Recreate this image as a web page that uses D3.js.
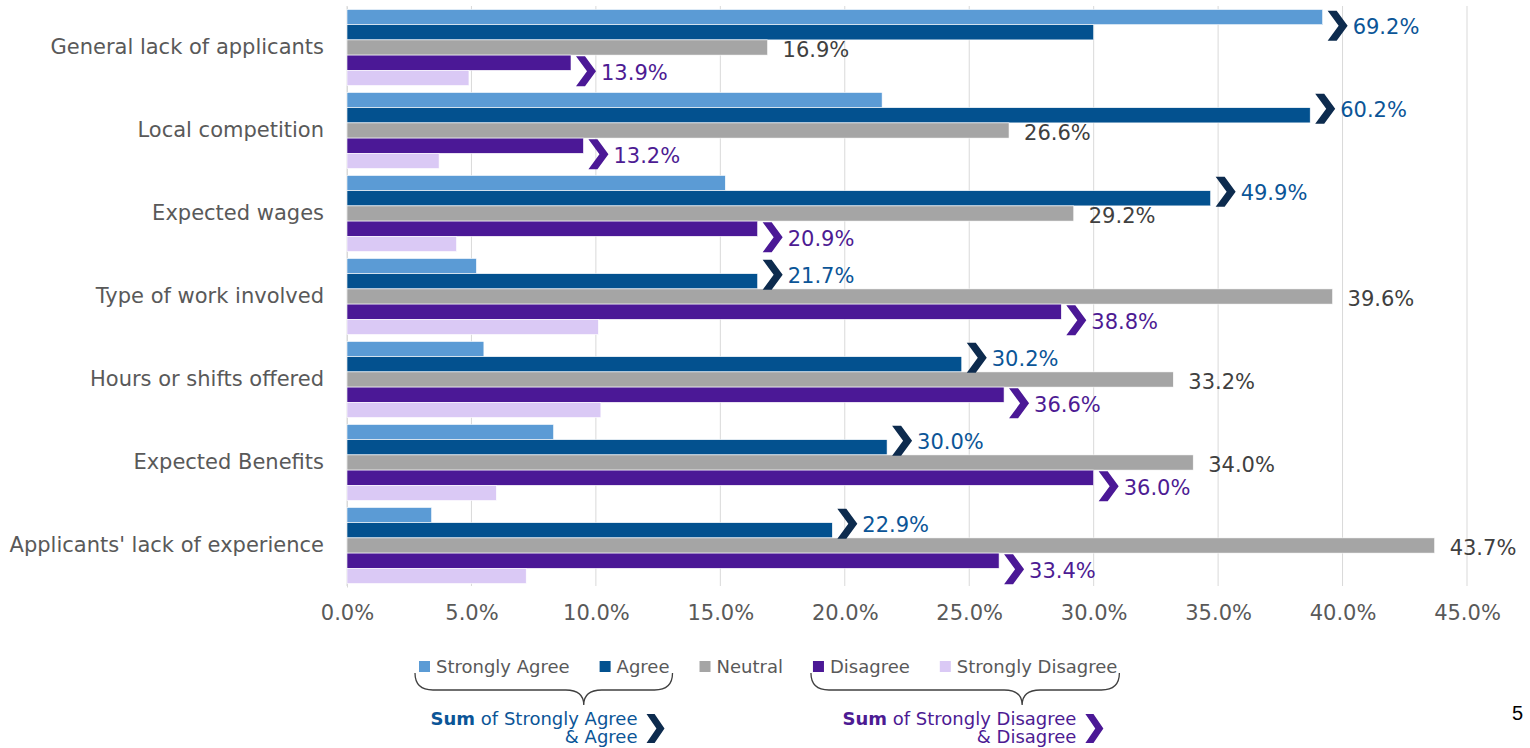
<!DOCTYPE html>
<html>
<head>
<meta charset="utf-8">
<script src="https://cdn.jsdelivr.net/npm/d3@7"></script>
<style>
	body { margin: 0; background: #fff; }
	svg { display: block; font-family: "DejaVu Sans", sans-serif; }
</style>
</head>
<body>
<svg id="chart" width="1530" height="748"></svg>
<script>
// values (percent)
var categories = ["General lack of applicants", "Local competition", "Expected wages", "Type of work involved",
	"Hours or shifts offered", "Expected Benefits", "Applicants' lack of experience"];
var seriesNames = ["Strongly Agree", "Agree", "Neutral", "Disagree", "Strongly Disagree"];
var strongAgree = [39.2, 21.5, 15.2, 5.2, 5.5, 8.3, 3.4];
var agree = [30.0, 38.7, 34.7, 16.5, 24.7, 21.7, 19.5];
var neutral = [16.9, 26.6, 29.2, 39.6, 33.2, 34.0, 43.7];
var disagree = [9.0, 9.5, 16.5, 28.7, 26.4, 30.0, 26.2];
var strongDisagree = [4.9, 3.7, 4.4, 10.1, 10.2, 6.0, 7.2];
var xTicks = [0, 5, 10, 15, 20, 25, 30, 35, 40, 45];

var colors = ["#5b9bd5", "#03518f", "#a5a5a5", "#4b1896", "#dac9f5"];
var navy = "#0d2b4e", purple = "#4b1896", agreeText = "#0b5597", disText = "#4d1b93";

var svg = d3.select('#chart');
var fmt = function(v) { return v.toFixed(1) + '%'; };

var x = d3.scaleLinear().domain([0, 45]).range([347, 1467]);
var y = d3.scaleBand().domain(categories).range([6, 587]).paddingInner(0.084).paddingOuter(0.042);
var ys = d3.scaleBand().domain(seriesNames).range([0, y.bandwidth()]);

var rows = categories.map(function(c, i) {
	return { cat: c, vals: [strongAgree[i], agree[i], neutral[i], disagree[i], strongDisagree[i]] };
});

// gridlines
svg.append('g')
	.selectAll('line').data(xTicks).enter().append('line')
	.attr('x1', function(d) { return x(d); }).attr('x2', function(d) { return x(d); })
	.attr('y1', 6).attr('y2', 586)
	.attr('stroke', '#d9d9d9').attr('stroke-width', 1);

// x axis labels
var xAxis = d3.axisBottom(x).tickValues(xTicks).tickSize(0).tickPadding(0)
	.tickFormat(function(d) { return fmt(d); });
var gx = svg.append('g').attr('transform', 'translate(0,605)').call(xAxis);
gx.select('.domain').remove();
gx.selectAll('text').attr('font-size', 21).attr('fill', '#595959')
	.attr('font-family', '"DejaVu Sans", sans-serif').attr('dy', '0.72em');

// category labels
var yAxis = d3.axisLeft(y).tickSize(0).tickPadding(23);
var gy = svg.append('g').attr('transform', 'translate(347,0)').call(yAxis);
gy.select('.domain').attr('stroke', '#d9d9d9');
gy.selectAll('text').attr('font-size', 21).attr('fill', '#595959')
	.attr('font-family', '"DejaVu Sans", sans-serif');

// bars
var groups = svg.append('g').selectAll('g').data(rows).enter().append('g')
	.attr('transform', function(d) { return 'translate(0,' + y(d.cat) + ')'; });

groups.selectAll('rect').data(function(d) { return d.vals; }).enter().append('rect')
	.attr('x', x(0))
	.attr('y', function(d, i) { return ys(seriesNames[i]); })
	.attr('width', function(d) { return x(d) - x(0); })
	.attr('height', ys.bandwidth())
	.attr('fill', function(d, i) { return colors[i]; })
	.attr('stroke', '#fff').attr('stroke-width', 0.6);

// neutral labels
groups.append('text')
	.attr('x', function(d) { return x(d.vals[2]) + 15; })
	.attr('y', ys('Neutral') + ys.bandwidth() / 2 + 2)
	.attr('dy', '0.36em')
	.attr('font-size', 21).attr('fill', '#404040')
	.text(function(d) { return fmt(d.vals[2]); });

function chevron(w, h) {
	return 'M0,0L' + (w * 0.45) + ',0L' + w + ',' + (h / 2) + 'L' + (w * 0.45) + ',' + h + 'L0,' + h + 'L' + (w * 0.55) + ',' + (h / 2) + 'Z';
}

// sum labels with chevrons
function sumLabel(a, b, color, tcolor) {
	var sel = groups.append('g')
		.attr('transform', function(d) {
			var xe = x(Math.max(d.vals[a], d.vals[b])) + 5;
			return 'translate(' + xe + ',' + ys(seriesNames[b]) + ')';
		});
	sel.append('path').attr('d', chevron(20, 30)).attr('transform', 'translate(0,-14)').attr('fill', color);
	sel.append('text').attr('x', 25).attr('y', 2).attr('dy', '0.36em')
		.attr('font-size', 21).attr('fill', tcolor)
		.text(function(d) { return fmt(d.vals[a] + d.vals[b]); });
}
sumLabel(0, 1, navy, agreeText);
sumLabel(3, 4, purple, disText);

// legend
var leg = svg.append('g').attr('font-size', 18).attr('fill', '#595959');
var lx = 419;
var legPos = [];
seriesNames.forEach(function(s, i) {
	leg.append('rect').attr('x', lx).attr('y', 661).attr('width', 11).attr('height', 11).attr('fill', colors[i]);
	var t = leg.append('text').attr('x', lx + 17).attr('y', 667).attr('dy', '0.36em').text(s);
	var w = t.node().getComputedTextLength();
	legPos.push([lx, lx + 17 + w]);
	lx = lx + 17 + w + 30;
});

function brace(x0, x1, xm) {
	var top = 673, mid = 690, tip = 705;
	var p = 'M' + x0 + ',' + top + 'Q' + x0 + ',' + mid + ' ' + (x0 + 18) + ',' + mid +
		'L' + (xm - 18) + ',' + mid + 'Q' + xm + ',' + mid + ' ' + xm + ',' + tip +
		'Q' + xm + ',' + mid + ' ' + (xm + 18) + ',' + mid +
		'L' + (x1 - 18) + ',' + mid + 'Q' + x1 + ',' + mid + ' ' + x1 + ',' + top;
	svg.append('path').attr('d', p).attr('fill', 'none').attr('stroke', '#404040').attr('stroke-width', 1.3);
}
var b1 = [legPos[0][0] - 4, legPos[1][1] + 3];
var b2 = [legPos[3][0] - 2, legPos[4][1] + 2];
brace(b1[0], b1[1], (b1[0] + b1[1]) / 2 + 40);
brace(b2[0], b2[1], (b2[0] + b2[1]) / 2 + 57);

function sumNote(xr, color, tcolor, l1, l2) {
	var g = svg.append('g').attr('font-size', 18).attr('fill', tcolor).attr('text-anchor', 'end');
	var t = g.append('text').attr('x', xr).attr('y', 719).attr('dy', '0.36em');
	t.append('tspan').attr('font-weight', 'bold').text('Sum');
	t.append('tspan').text(' of ' + l1);
	g.append('text').attr('x', xr).attr('y', 737).attr('dy', '0.36em').text(l2);
	svg.append('path').attr('d', chevron(18, 29)).attr('transform', 'translate(' + (xr + 9) + ',714)').attr('fill', color);
}
sumNote(b1[1] - 35, navy, agreeText, 'Strongly Agree', '& Agree');
sumNote(b2[1] - 43, purple, disText, 'Strongly Disagree', '& Disagree');

// page number
svg.append('text').attr('x', 1523).attr('y', 720).attr('text-anchor', 'end')
	.attr('font-family', '"Liberation Sans", sans-serif').attr('font-size', 20).attr('fill', '#000').text('5');
</script>
</body>
</html>
